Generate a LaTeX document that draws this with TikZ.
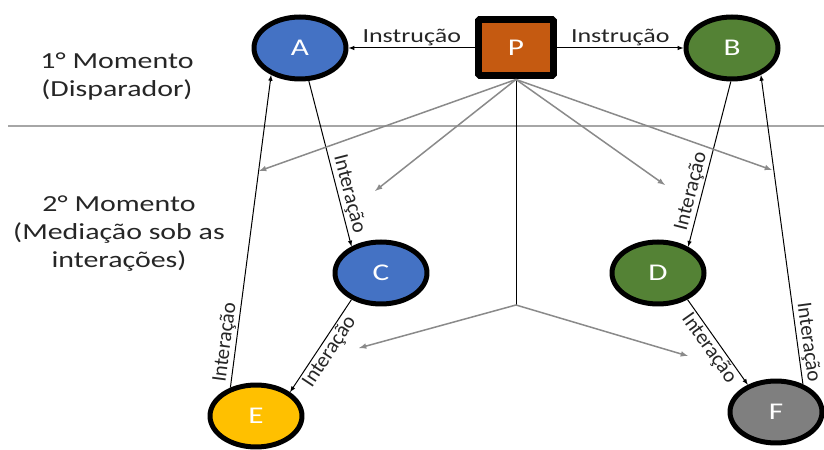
\documentclass[tikz,border=0pt]{standalone}
\usepackage{fontspec}
\setmainfont{Carlito}
\newfontfamily\widefont{Carlito}[FakeStretch=1.3]
\usetikzlibrary{shapes.geometric}
\definecolor{cblue}{HTML}{4472C4}
\definecolor{cgreen}{HTML}{548235}
\definecolor{cyellow}{HTML}{FFC000}
\definecolor{cgray}{HTML}{7F7F7F}
\definecolor{corange}{HTML}{C55A11}
\definecolor{ctext}{HTML}{262626}
\definecolor{carrow}{HTML}{8A8A8A}
\definecolor{crule}{HTML}{A6A6A6}
\begin{document}
\begin{tikzpicture}[>=latex,line join=bevel,
  actor/.style={ellipse,draw=black,line width=5bp,minimum width=92bp,minimum height=62bp,inner sep=0bp,text=white,font=\widefont\fontsize{24bp}{28bp}\selectfont},
  teacher/.style={rectangle,draw=black,fill=corange,line width=7bp,minimum width=75bp,minimum height=56bp,inner sep=0bp,text=white,font=\widefont\fontsize{24bp}{28bp}\selectfont},
  momlbl/.style={align=center,text=ctext,font=\widefont\fontsize{23bp}{28bp}\selectfont},
  inslbl/.style={text=ctext,inner sep=2bp,font=\widefont\fontsize{20bp}{24bp}\selectfont},
  intlbl/.style={text=ctext,inner sep=1.5bp,font=\fontsize{21bp}{24bp}\selectfont},
  link/.style={black,line width=1bp},
  mediation/.style={carrow,line width=1.5bp},
]
%%
\useasboundingbox (0bp,0bp) rectangle (824bp,450bp);
\draw [crule,line width=2bp] (8bp,324bp) -- (824bp,324bp);
%%
\node (node_m1) at (117.0bp,374.0bp) [momlbl] {1° Momento\\(Disparador)};
  \node (node_m2) at (119.0bp,216.0bp) [momlbl] {2° Momento\\(Mediação sob as\\interações)};
%%
\node (node_P) at (516.0bp,402.0bp) [teacher] {P};
  \node (node_A) at (300.0bp,402.0bp) [actor,fill=cblue] {A};
  \node (node_B) at (732.0bp,402.0bp) [actor,fill=cgreen] {B};
  \node (node_C) at (381.0bp,177.0bp) [actor,fill=cblue] {C};
  \node (node_D) at (658.0bp,177.0bp) [actor,fill=cgreen] {D};
  \node (node_E) at (256.0bp,34.0bp) [actor,fill=cyellow] {E};
  \node (node_F) at (776.0bp,38.0bp) [actor,fill=cgray] {F};
%%
\coordinate (split) at (516.0bp,145.0bp);
  \coordinate (tip_1) at (259.0bp,279.0bp);
  \coordinate (tip_2) at (375.0bp,259.0bp);
  \coordinate (tip_3) at (665.0bp,265.0bp);
  \coordinate (tip_4) at (772.0bp,280.0bp);
  \coordinate (tip_5) at (359.0bp,102.0bp);
  \coordinate (tip_6) at (688.0bp,94.0bp);
%%
\draw [link,->] (node_P) -- node [inslbl,above] {Instrução} (node_A);
  \draw [link,->] (node_P) -- node [inslbl,above] {Instrução} (node_B);
  \draw [link,->] (node_A.285) -- node [intlbl,sloped,above,pos=0.7] {Interação} (node_C.138);
  \draw [link,->] (node_E.132) -- node [intlbl,sloped,above,pos=0.14] {Interação} (node_A.223);
  \draw [link,->] (node_C.222) -- node [intlbl,sloped,below,pos=0.5] {Interação} (node_E.35);
  \draw [link,->] (node_B.268) -- node [intlbl,sloped,above,pos=0.68] {Interação} (node_D.41);
  \draw [link,->] (node_D.318) -- node [intlbl,sloped,below,pos=0.5] {Interação} (node_F.136);
  \draw [link,<-] (node_B.317) -- node [intlbl,sloped,above,pos=0.87] {Interação} (node_F.46);
%
\draw [link] (node_P.south) -- (split);
  \draw [mediation,->] (node_P.south) -- (tip_1);
  \draw [mediation,->] (node_P.south) -- (tip_2);
  \draw [mediation,->] (node_P.south) -- (tip_3);
  \draw [mediation,->] (node_P.south) -- (tip_4);
  \draw [mediation,->] (split) -- (tip_5);
  \draw [mediation,->] (split) -- (tip_6);
%
\end{tikzpicture}
\end{document}
